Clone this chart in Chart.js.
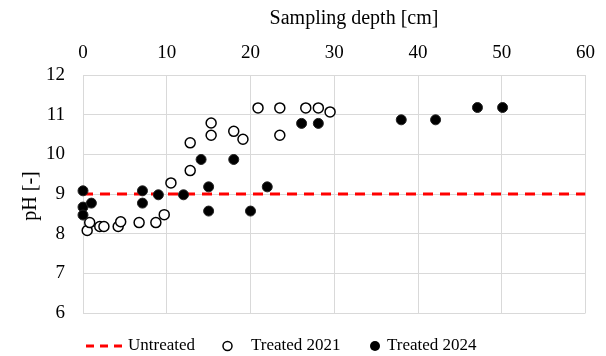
<!DOCTYPE html>
<html>
<head>
<meta charset="utf-8">
<script src="https://cdn.jsdelivr.net/npm/chart.js@4"></script>
<style>
  body { margin: 0; background: #fff; }
</style>
</head>
<body>
<canvas id="phChart" width="606" height="356"></canvas>
<script>
// values
const untreatedX = [0, 60];
const untreatedY = [9, 9];

const treated2021X = [0.5, 0.8, 2.0, 2.5, 4.2, 4.5, 6.7, 8.7, 9.7, 10.5, 12.8, 12.8, 15.3, 15.3, 18.0, 19.1, 20.9, 23.5, 23.5, 26.6, 28.1, 29.5];
const treated2021Y = [8.08, 8.28, 8.18, 8.18, 8.18, 8.3, 8.28, 8.28, 8.48, 9.28, 9.59, 10.29, 10.48, 10.79, 10.58, 10.38, 11.17, 11.17, 10.48, 11.17, 11.17, 11.07];

const treated2024X = [0, 0, 0, 1.0, 7.1, 7.1, 9.0, 12.0, 14.1, 15.0, 15.0, 18.0, 20.0, 22.0, 26.1, 28.1, 38.0, 42.1, 47.1, 50.1];
const treated2024Y = [9.08, 8.67, 8.47, 8.77, 9.08, 8.77, 8.98, 8.98, 9.87, 9.18, 8.57, 9.87, 8.57, 9.18, 10.78, 10.78, 10.87, 10.87, 11.18, 11.18];

const xTitle = 'Sampling depth [cm]';
const yTitle = 'pH [-]';

const FONT = '"Liberation Serif", "Times New Roman", serif';
const GRID = '#d9d9d9';

const toPoints = (xs, ys) => xs.map((x, i) => ({ x: x, y: ys[i] }));

// axis titles + legend drawn by hand, Excel puts them where it likes
const extras = {
    id: 'extras',
    afterDraw(chart) {
        const ctx = chart.ctx;
        const ds = chart.data.datasets;
        ctx.save();
        ctx.fillStyle = '#000';
        ctx.textBaseline = 'middle';

        ctx.font = '20px ' + FONT;
        ctx.textAlign = 'center';
        ctx.fillText(xTitle, 354, 19);

        ctx.save();
        ctx.translate(31, 196);
        ctx.rotate(-Math.PI / 2);
        ctx.fillText(yTitle, 0, 0);
        ctx.restore();

        // legend
        const ly = 346;
        ctx.font = '17px ' + FONT;
        ctx.textAlign = 'left';

        ctx.save();
        ctx.strokeStyle = ds[0].borderColor;
        ctx.lineWidth = 3;
        ctx.setLineDash([8, 6]);
        ctx.beginPath();
        ctx.moveTo(86, ly);
        ctx.lineTo(124, ly);
        ctx.stroke();
        ctx.restore();
        ctx.fillText(ds[0].label, 128, ly);

        ctx.beginPath();
        ctx.arc(227.5, ly, 4.5, 0, Math.PI * 2);
        ctx.fillStyle = ds[1].backgroundColor;
        ctx.fill();
        ctx.lineWidth = 1.5;
        ctx.strokeStyle = ds[1].borderColor;
        ctx.stroke();
        ctx.fillStyle = '#000';
        ctx.fillText(ds[1].label, 251, ly);

        ctx.beginPath();
        ctx.arc(375, ly, 5, 0, Math.PI * 2);
        ctx.fillStyle = ds[2].backgroundColor;
        ctx.fill();
        ctx.fillStyle = '#000';
        ctx.fillText(ds[2].label, 387, ly);

        ctx.restore();
    }
};

new Chart(document.getElementById('phChart'), {
    type: 'scatter',
    data: {
        datasets: [
            {
                label: 'Untreated',
                type: 'line',
                data: toPoints(untreatedX, untreatedY),
                borderColor: '#ff0000',
                borderWidth: 3,
                borderDash: [10, 7],
                pointRadius: 0,
                fill: false,
                order: 2
            },
            {
                label: 'Treated 2021',
                data: toPoints(treated2021X, treated2021Y),
                backgroundColor: '#ffffff',
                borderColor: '#000000',
                borderWidth: 1.5,
                pointRadius: 5,
                clip: false,
                order: 1
            },
            {
                label: 'Treated 2024',
                data: toPoints(treated2024X, treated2024Y),
                backgroundColor: '#000000',
                borderColor: '#222222',
                borderWidth: 1,
                pointRadius: 5,
                clip: false,
                order: 0
            }
        ]
    },
    options: {
        responsive: false,
        devicePixelRatio: 1,
        animation: false,
        layout: { padding: { left: 0, right: 19, top: 0, bottom: 43 } },
        plugins: {
            legend: { display: false },
            tooltip: { enabled: false }
        },
        scales: {
            x: {
                type: 'linear',
                position: 'top',
                min: 0,
                max: 60,
                ticks: { stepSize: 10, padding: 11, color: '#000', font: { family: FONT, size: 19 } },
                grid: { color: GRID, lineWidth: 1, drawTicks: false },
                border: { color: GRID },
                afterFit(scale) { scale.height = 75; }
            },
            y: {
                min: 6,
                max: 12,
                ticks: { stepSize: 1, padding: 18, color: '#000', font: { family: FONT, size: 19 } },
                grid: { color: GRID, lineWidth: 1, drawTicks: false },
                border: { color: GRID },
                afterFit(scale) { scale.width = 83; }
            }
        }
    },
    plugins: [extras]
});
</script>
</body>
</html>
